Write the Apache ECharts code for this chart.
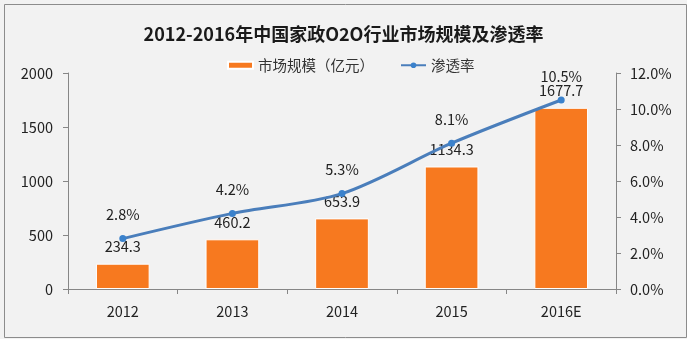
<!DOCTYPE html>
<html><head><meta charset="utf-8">
<script src="https://cdn.jsdelivr.net/npm/echarts@6/dist/echarts.min.js"></script>
<style>html,body{margin:0;padding:0;background:#fff}#c{width:687px;height:339px}</style>
</head><body><div id="c"></div>
<script>
const categories = ['2012','2013','2014','2015','2016E'];
const marketSize = [234.3, 460.2, 653.9, 1134.3, 1677.7];
const penetration = [2.8, 4.2, 5.3, 8.1, 10.5];
const leftTicks = [0, 500, 1000, 1500, 2000];
const rightTicks = [0, 2, 4, 6, 8, 10, 12];

const font = '"Noto Sans CJK SC", "Microsoft YaHei", sans-serif';
const fs = 14.5;
const chart = echarts.init(document.getElementById('c'));
chart.setOption({
  backgroundColor: '#f2f2f2',
  textStyle: { fontFamily: font },
  graphic: [{
    type: 'rect', left: 2, top: 2, shape: { width: 682, height: 333 },
    style: { fill: 'none', stroke: '#8c8c8c', lineWidth: 1 }, silent: true
  }],
  title: {
    text: '2012-2016年中国家政O2O行业市场规模及渗透率',
    left: 'center', top: 20,
    textStyle: { fontSize: 18, fontWeight: 'bold', color: '#1a1a1a', fontFamily: font }
  },
  legend: {
    top: 53, left: 222, itemGap: 26, itemWidth: 25, itemHeight: 7,
    textStyle: { fontSize: fs, color: '#333', fontFamily: font },
    data: [
      { name: '市场规模（亿元）', icon: 'rect' },
      { name: '渗透率' }
    ]
  },
  grid: { left: 68, right: 71, top: 73, bottom: 50 },
  xAxis: {
    type: 'category', data: categories,
    axisLine: { lineStyle: { color: '#868686' } },
    axisTick: { show: true, inside: false, length: 5, lineStyle: { color: '#868686' } },
    axisLabel: { fontSize: fs, color: '#222', margin: 15, fontFamily: font }
  },
  yAxis: [{
    type: 'value', min: 0, max: 2000, interval: 500,
    axisLine: { show: true, lineStyle: { color: '#868686' } },
    axisTick: { show: true, length: 5, lineStyle: { color: '#868686' } },
    splitLine: { show: false },
    axisLabel: { fontSize: fs, color: '#222', margin: 15, fontFamily: font,
      formatter: v => leftTicks.includes(v) ? String(v) : '' }
  }, {
    type: 'value', min: 0, max: 12, interval: 2, position: 'right',
    axisLine: { show: true, lineStyle: { color: '#868686' } },
    axisTick: { show: true, length: 5, lineStyle: { color: '#868686' } },
    splitLine: { show: false },
    axisLabel: { fontSize: fs, color: '#222', margin: 14, fontFamily: font,
      formatter: v => rightTicks.includes(v) ? v.toFixed(1) + '%' : '' }
  }],
  series: [{
    name: '市场规模（亿元）', type: 'bar', data: marketSize, barWidth: '49%',
    itemStyle: { color: '#F7791F', borderColor: '#ffffff', borderWidth: 1 },
    label: { show: true, position: 'top', distance: 10, fontSize: fs, color: '#222', fontFamily: font,
      formatter: p => p.value.toFixed(1) }
  }, {
    name: '渗透率', type: 'line', yAxisIndex: 1, data: penetration, smooth: 0.3,
    symbol: 'circle', symbolSize: 7,
    lineStyle: { color: '#4a7ebb', width: 3 },
    itemStyle: { color: '#3b82cc' },
    label: { show: true, position: 'top', distance: 13, fontSize: fs, color: '#222', fontFamily: font,
      formatter: p => p.value.toFixed(1) + '%' }
  }]
});
</script></body></html>
